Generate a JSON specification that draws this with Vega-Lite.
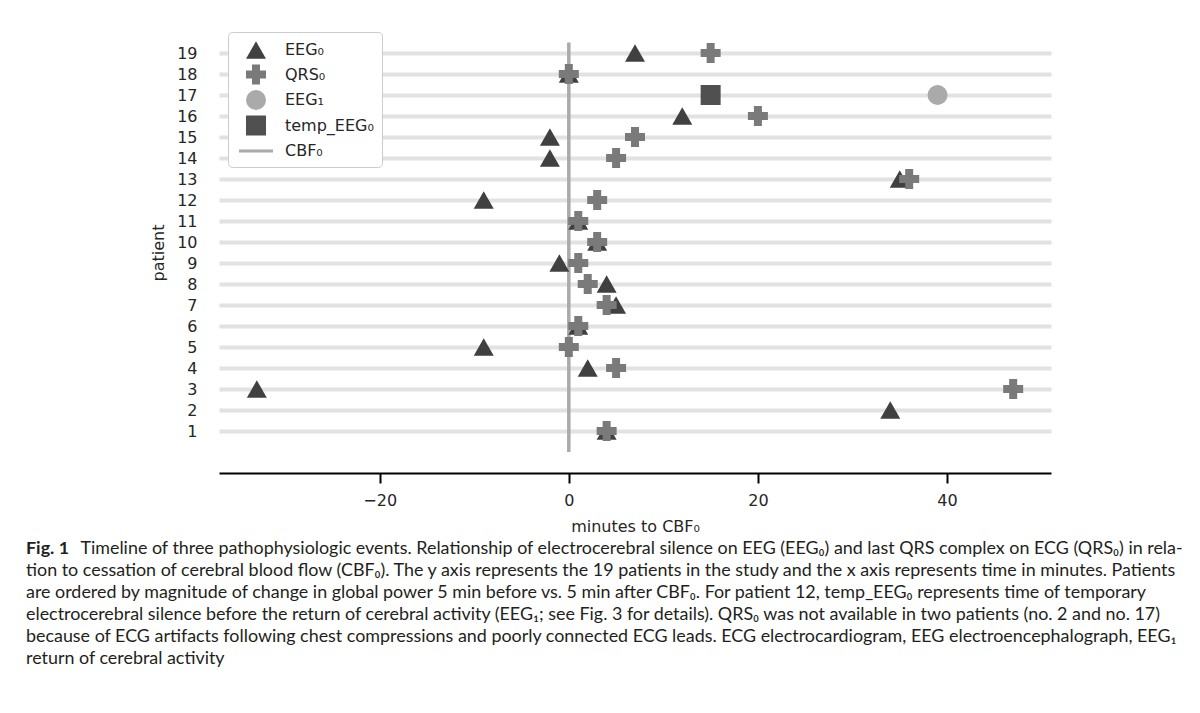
{
  "$schema": "https://vega.github.io/schema/vega-lite/v6.json",
  "width": 832,
  "height": 441,
  "autosize": {"type": "none"},
  "padding": {"left": 219, "top": 32, "right": 149, "bottom": 240},
  "background": "white",
  "config": {
    "view": {"stroke": null},
    "font": "DejaVu Sans",
    "axis": {"labelFont": "DejaVu Sans", "titleFont": "DejaVu Sans", "labelColor": "#262626", "titleColor": "#262626"},
    "axisY": {"labelOverlap": false}
  },
  "title": {
    "text": "Fig. 1",
    "subtitle": [
      "\u200b\u00a0\u00a0\u00a0\u00a0\u00a0\u00a0\u00a0\u00a0\u00a0\u00a0\u00a0\u00a0Timeline of three pathophysiologic events. Relationship of electrocerebral silence on EEG (EEG₀) and last QRS complex on ECG (QRS₀) in rela-",
      "tion to cessation of cerebral blood flow (CBF₀). The y axis represents the 19 patients in the study and the x axis represents time in minutes. Patients",
      "are ordered by magnitude of change in global power 5 min before vs. 5 min after CBF₀. For patient 12, temp_EEG₀ represents time of temporary",
      "electrocerebral silence before the return of cerebral activity (EEG₁; see Fig. 3 for details). QRS₀ was not available in two patients (no. 2 and no. 17)",
      "because of ECG artifacts following chest compressions and poorly connected ECG leads. ECG electrocardiogram, EEG electroencephalograph, EEG₁",
      "return of cerebral activity"
    ],
    "orient": "bottom",
    "anchor": "start",
    "frame": "group",
    "dx": -193,
    "offset": 6,
    "font": "Lato",
    "fontSize": 17.9,
    "fontWeight": "bold",
    "color": "#231f20",
    "subtitleFont": "Lato",
    "subtitleFontSize": 17.9,
    "subtitleFontWeight": "normal",
    "subtitleColor": "#231f20",
    "subtitleLineHeight": 22,
    "subtitlePadding": -17.9
  },
  "layer": [
    {
      "data": {"values": [{"minutes": 0, "patient": 0, "patient_end": 19.5}]},
      "mark": {"type": "rule", "color": "#aaaaaa", "strokeWidth": 3.5},
      "encoding": {
        "x": {
          "field": "minutes", "type": "quantitative",
          "scale": {"domain": [-37, 51], "nice": false, "zero": false},
          "axis": {
            "title": "minutes to CBF₀", "values": [-20, 0, 20, 40], "grid": false,
            "domainColor": "#000000", "domainWidth": 2, "tickColor": "#000000", "tickWidth": 2,
            "tickSize": 10, "labelPadding": 9, "labelFontSize": 16, "titleFontSize": 16,
            "titleFontWeight": "normal", "titlePadding": 10
          }
        },
        "y": {
          "field": "patient", "type": "quantitative",
          "scale": {"domain": [-1, 20], "nice": false, "zero": false},
          "axis": {
            "title": "patient", "values": [1,2,3,4,5,6,7,8,9,10,11,12,13,14,15,16,17,18,19],
            "grid": true, "gridColor": "#e2e2e2", "gridWidth": 4, "domain": false, "ticks": false,
            "tickSize": 0, "labelPadding": 22, "labelFontSize": 16, "labelOverlap": false,
            "titleFontSize": 16, "titleFontWeight": "normal", "titlePadding": 10
          }
        },
        "y2": {"field": "patient_end"}
      }
    },
    {
      "data": {
        "values": [
          {"patient": 19, "minutes": 7, "event": "EEG₀"},
          {"patient": 18, "minutes": 0, "event": "EEG₀"},
          {"patient": 16, "minutes": 12, "event": "EEG₀"},
          {"patient": 15, "minutes": -2, "event": "EEG₀"},
          {"patient": 14, "minutes": -2, "event": "EEG₀"},
          {"patient": 13, "minutes": 35, "event": "EEG₀"},
          {"patient": 12, "minutes": -9, "event": "EEG₀"},
          {"patient": 11, "minutes": 1, "event": "EEG₀"},
          {"patient": 10, "minutes": 3, "event": "EEG₀"},
          {"patient": 9, "minutes": -1, "event": "EEG₀"},
          {"patient": 8, "minutes": 4, "event": "EEG₀"},
          {"patient": 7, "minutes": 5, "event": "EEG₀"},
          {"patient": 6, "minutes": 1, "event": "EEG₀"},
          {"patient": 5, "minutes": -9, "event": "EEG₀"},
          {"patient": 4, "minutes": 2, "event": "EEG₀"},
          {"patient": 3, "minutes": -33, "event": "EEG₀"},
          {"patient": 2, "minutes": 34, "event": "EEG₀"},
          {"patient": 1, "minutes": 4, "event": "EEG₀"},
          {"patient": 19, "minutes": 15, "event": "QRS₀"},
          {"patient": 18, "minutes": 0, "event": "QRS₀"},
          {"patient": 16, "minutes": 20, "event": "QRS₀"},
          {"patient": 15, "minutes": 7, "event": "QRS₀"},
          {"patient": 14, "minutes": 5, "event": "QRS₀"},
          {"patient": 13, "minutes": 36, "event": "QRS₀"},
          {"patient": 12, "minutes": 3, "event": "QRS₀"},
          {"patient": 11, "minutes": 1, "event": "QRS₀"},
          {"patient": 10, "minutes": 3, "event": "QRS₀"},
          {"patient": 9, "minutes": 1, "event": "QRS₀"},
          {"patient": 8, "minutes": 2, "event": "QRS₀"},
          {"patient": 7, "minutes": 4, "event": "QRS₀"},
          {"patient": 6, "minutes": 1, "event": "QRS₀"},
          {"patient": 5, "minutes": 0, "event": "QRS₀"},
          {"patient": 4, "minutes": 5, "event": "QRS₀"},
          {"patient": 3, "minutes": 47, "event": "QRS₀"},
          {"patient": 1, "minutes": 4, "event": "QRS₀"},
          {"patient": 17, "minutes": 39, "event": "EEG₁"},
          {"patient": 17, "minutes": 15, "event": "temp_EEG₀"}
        ]
      },
      "mark": {"type": "point", "filled": true, "opacity": 1, "size": 400},
      "encoding": {
        "x": {"field": "minutes", "type": "quantitative", "scale": {"domain": [-37, 51], "nice": false, "zero": false}},
        "y": {
          "field": "patient", "type": "quantitative",
          "scale": {"domain": [-1, 20], "nice": false, "zero": false},
          "axis": {
            "title": "patient", "values": [1,2,3,4,5,6,7,8,9,10,11,12,13,14,15,16,17,18,19],
            "grid": true, "gridColor": "#e2e2e2", "gridWidth": 4, "domain": false, "ticks": false,
            "tickSize": 0, "labelPadding": 22, "labelFontSize": 16, "labelOverlap": false,
            "titleFontSize": 16, "titleFontWeight": "normal", "titlePadding": 10
          }
        },
        "shape": {
          "field": "event", "type": "nominal",
          "scale": {
            "domain": ["EEG₀", "QRS₀", "EEG₁", "temp_EEG₀", "CBF₀"],
            "range": ["triangle-up", "cross", "circle", "square", "M-1.7,-0.15L1.7,-0.15L1.7,0.15L-1.7,0.15Z"]
          },
          "legend": {
            "title": null,
            "orient": "none",
            "legendX": 9,
            "legendY": 0,
            "padding": 8,
            "rowPadding": 5.5,
            "symbolOffset": 10,
            "labelOffset": 19,
            "symbolSize": 400,
            "symbolStrokeWidth": 0,
            "symbolOpacity": 1,
            "labelFont": "DejaVu Sans",
            "labelFontSize": 16,
            "labelColor": "#262626",
            "strokeColor": "#cccccc",
            "fillColor": "#ffffff",
            "cornerRadius": 4
          }
        },
        "color": {
          "field": "event", "type": "nominal",
          "scale": {
            "domain": ["EEG₀", "QRS₀", "EEG₁", "temp_EEG₀", "CBF₀"],
            "range": ["#404040", "#7a7a7a", "#aaaaaa", "#505050", "#aaaaaa"]
          }
        }
      }
    }
  ]
}
